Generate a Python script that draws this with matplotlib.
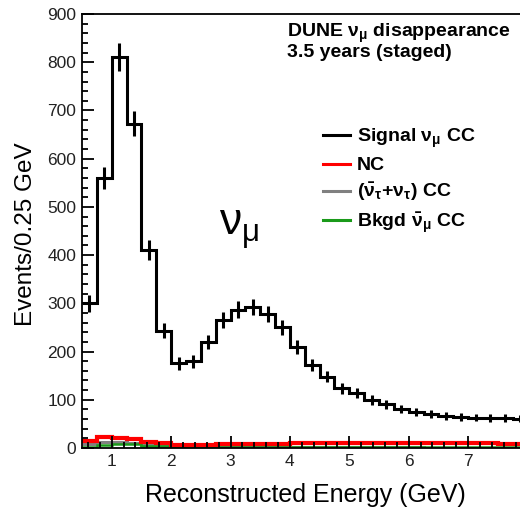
import numpy as np
import matplotlib
matplotlib.use("Agg")
import matplotlib.pyplot as plt
from matplotlib.ticker import MultipleLocator

plt.rcParams["font.family"] = ["Liberation Sans", "DejaVu Sans"]
plt.rcParams["mathtext.default"] = "regular"

# binning: 0.25 GeV bins from 0.5 to 8 GeV
bin_edges = np.arange(0.5, 8.0 + 0.001, 0.25)

signal_numu = [300, 560, 811, 672, 411, 243, 176, 180, 220, 266,
               287, 292, 278, 250, 210, 172, 148, 124, 114, 100,
               91, 81, 75, 71, 67, 64, 63, 62, 62, 61]
nc = [15, 23, 21, 18, 13, 10, 7, 7, 7, 9,
      9, 9, 9, 9, 10, 10, 10, 10, 11, 11,
      11, 11, 11, 11, 11, 10, 10, 10, 9, 9]
nutau = [8, 13, 12, 11, 7, 5, 4, 3, 3, 2,
         2, 2, 2, 2, 2, 2, 2, 2, 2, 2,
         2, 2, 2, 1, 1, 1, 1, 1, 1, 1]
bkgd_numubar = [3, 6, 8, 8, 5, 4, 2, 2, 2, 2,
                3, 3, 3, 3, 3, 3, 3, 3, 3, 3,
                3, 3, 3, 3, 3, 3, 3, 3, 2, 2]
xticks = [1, 2, 3, 4, 5, 6, 7]

labels = [r"Signal $\nu_{\mu}$ CC", "NC",
          r"($\bar{\nu}_{\tau}$+$\nu_{\tau}$) CC", r"Bkgd $\bar{\nu}_{\mu}$ CC"]
colors = ["black", "#ff0000", "#808080", "#1a9a1a"]

fig = plt.figure(figsize=(5.2, 5.15), dpi=100)
ax = fig.add_axes([82 / 520, 67 / 515, 445.5 / 520, 434 / 515])

centers = 0.5 * (bin_edges[:-1] + bin_edges[1:])


def step_hist(values, color, lw):
    vals = np.asarray(values, dtype=float)
    ax.stairs(vals, bin_edges, color=color, lw=lw, baseline=None)


step_hist(nutau, colors[2], 2.2)
step_hist(bkgd_numubar, colors[3], 1.8)
step_hist(nc, colors[1], 3.0)
step_hist(signal_numu, colors[0], 2.2)
sig = np.asarray(signal_numu, dtype=float)
ax.vlines(centers, sig - np.sqrt(sig), sig + np.sqrt(sig), color="black", lw=2.2)

ax.set_xlim(0.5, 8.0)
ax.set_ylim(0, 900)
ax.set_xticks(xticks)
ax.xaxis.set_minor_locator(MultipleLocator(0.2))
ax.yaxis.set_major_locator(MultipleLocator(100))
ax.yaxis.set_minor_locator(MultipleLocator(20))
ax.tick_params(which="both", direction="in", width=1.3, color="black",
               labelcolor="#222222", labelsize=12.5, top=False, right=False)
ax.tick_params(which="major", length=8.6, pad=4)
ax.tick_params(which="minor", length=4.3)
for s in ["left", "top", "bottom"]:
    ax.spines[s].set_linewidth(1.3)
ax.spines["right"].set_visible(False)

ax.set_xlabel("Reconstructed Energy (GeV)", fontsize=18, va="center")
ax.set_ylabel("Events/0.25 GeV", fontsize=17.5, va="center")
ax.xaxis.set_label_coords((305 - 82) / 445.5, -(495 - 448) / 434)
ax.yaxis.set_label_coords(-(82 - 26) / 445.5, (448 - 234) / 434)

fig.text(287 / 520, 1 - 37 / 515, r"DUNE $\nu_{\mu}$ disappearance",
         fontsize=14, fontweight="bold", va="baseline")
fig.text(287 / 520, 1 - 57 / 515, "3.5 years (staged)",
         fontsize=14, fontweight="bold", va="baseline")

ax.text(3.14, 452, r"$\nu_{\mu}$", fontsize=32, ha="center", va="center",
        math_fontfamily="stix")

handles = [plt.Line2D([], [], color=c, lw=2.2) for c in colors]
ax.legend(handles, labels, loc="upper left",
          bbox_to_anchor=(313 / 520, 1 - 117 / 515), bbox_transform=fig.transFigure,
          frameon=False, prop={"weight": "bold", "size": 14},
          handlelength=1.4, handletextpad=0.35, labelspacing=0.35, borderpad=0)

fig.savefig("out.png", dpi=100)
